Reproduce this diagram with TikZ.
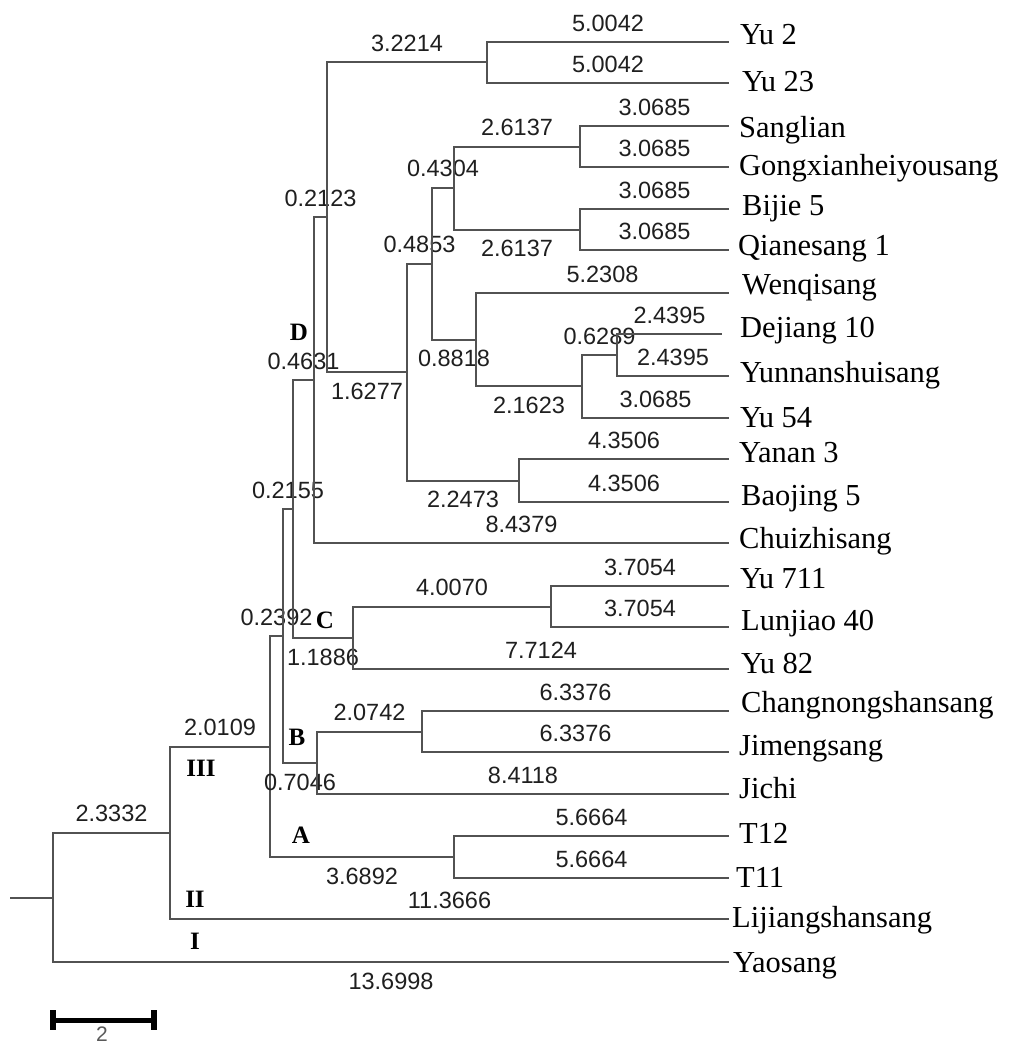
\documentclass[tikz,border=0pt]{standalone}
\usepackage{fontspec}
\setmainfont{Liberation Serif}
\newfontfamily\numfont{Liberation Sans}
\usepackage{tikz}

\begin{document}
\begin{tikzpicture}[x=1pt, y=-1pt,
	branch/.style={draw=black!68, line width=2pt},
	num/.style={font=\numfont\fontsize{23.5}{24}\selectfont, text=black!88, inner sep=0pt},
	len/.style={num, pos=.75},
	ab/.style={len, yshift=19pt},
	bl/.style={len, yshift=-19pt},
	leaf/.style={anchor=base west, inner sep=0pt, font=\fontsize{30.5}{32}\selectfont},
	grp/.style={font=\bfseries\fontsize{25}{27}\selectfont, inner sep=0pt}]
	\useasboundingbox (0,0) rectangle (1021,1046);
	% inner nodes
	\coordinate (stub) at (10,897.5);
	\coordinate (r) at (53,897.5);
	\coordinate (n2) at (170,832.75);
	\coordinate (n3) at (270,746.5);
	\coordinate (nA) at (454,857);
	\coordinate (n4) at (283,636);
	\coordinate (nB) at (317,763);
	\coordinate (nB1) at (422,731.5);
	\coordinate (n5) at (293,509);
	\coordinate (nC) at (353,638);
	\coordinate (nC1) at (551,606.5);
	\coordinate (nD) at (314,380);
	\coordinate (n6) at (327,217);
	\coordinate (nY) at (487,62.5);
	\coordinate (n7) at (407,372);
	\coordinate (nYB) at (519,480.5);
	\coordinate (n8) at (432,263.5);
	\coordinate (n9) at (454,187.5);
	\coordinate (nSG) at (580,146.5);
	\coordinate (nBQ) at (580,229.5);
	\coordinate (n10) at (476,339.5);
	\coordinate (n11) at (582,386);
	\coordinate (n12) at (617,355);
	% leaves
	\coordinate (yu2) at (729,42);
	\coordinate (yu23) at (729,83);
	\coordinate (sang) at (729,126);
	\coordinate (gong) at (729,167);
	\coordinate (bijie) at (729,209);
	\coordinate (qian) at (729,250);
	\coordinate (wenqi) at (729,293);
	\coordinate (dej) at (722,334);
	\coordinate (yunnan) at (729,376);
	\coordinate (yu54) at (729,418);
	\coordinate (yanan) at (729,459);
	\coordinate (baoj) at (729,502);
	\coordinate (chui) at (729,543);
	\coordinate (yu711) at (729,586);
	\coordinate (lunj) at (729,627);
	\coordinate (yu82) at (729,669);
	\coordinate (chang) at (729,711);
	\coordinate (jimeng) at (729,752);
	\coordinate (jichi) at (729,794);
	\coordinate (t12) at (729,836);
	\coordinate (t11) at (729,878);
	\coordinate (lij) at (729,919);
	\coordinate (yao) at (729,962);

	\draw[branch] (stub) -- (r);
	\draw[branch] (r) |- node[ab] {2.3332} (n2);
	\draw[branch] (r) |- node[bl] {13.6998} (yao);
	\draw[branch] (n2) |- node[ab] {2.0109} (n3);
	\draw[branch] (n2) |- node[ab] {11.3666} (lij);
	\draw[branch] (n3) |- node[ab] {0.2392} (n4);
	\draw[branch] (n3) |- node[bl] {3.6892} (nA);
	\draw[branch] (nA) |- node[ab] {5.6664} (t12);
	\draw[branch] (nA) |- node[ab] {5.6664} (t11);
	\draw[branch] (n4) |- node[ab] {0.2155} (n5);
	\draw[branch] (n4) |- node[bl] {0.7046} (nB);
	\draw[branch] (nB) |- node[ab] {2.0742} (nB1);
	\draw[branch] (nB) |- node[ab] {8.4118} (jichi);
	\draw[branch] (nB1) |- node[ab] {6.3376} (chang);
	\draw[branch] (nB1) |- node[ab] {6.3376} (jimeng);
	\draw[branch] (n5) |- node[ab] {0.4631} (nD);
	\draw[branch] (n5) |- node[bl] {1.1886} (nC);
	\draw[branch] (nC) |- node[ab] {4.0070} (nC1);
	\draw[branch] (nC) |- node[ab] {7.7124} (yu82);
	\draw[branch] (nC1) |- node[ab] {3.7054} (yu711);
	\draw[branch] (nC1) |- node[ab] {3.7054} (lunj);
	\draw[branch] (nD) |- node[ab] {0.2123} (n6);
	\draw[branch] (nD) |- node[ab] {8.4379} (chui);
	\draw[branch] (n6) |- node[ab] {3.2214} (nY);
	\draw[branch] (n6) |- node[bl] {1.6277} (n7);
	\draw[branch] (nY) |- node[ab] {5.0042} (yu2);
	\draw[branch] (nY) |- node[ab] {5.0042} (yu23);
	\draw[branch] (n7) |- node[ab] {0.4853} (n8);
	\draw[branch] (n7) |- node[bl] {2.2473} (nYB);
	\draw[branch] (nYB) |- node[ab] {4.3506} (yanan);
	\draw[branch] (nYB) |- node[ab] {4.3506} (baoj);
	\draw[branch] (n8) |- node[ab] {0.4304} (n9);
	\draw[branch] (n8) |- node[bl] {0.8818} (n10);
	\draw[branch] (n9) |- node[ab] {2.6137} (nSG);
	\draw[branch] (n9) |- node[bl] {2.6137} (nBQ);
	\draw[branch] (nSG) |- node[ab] {3.0685} (sang);
	\draw[branch] (nSG) |- node[ab] {3.0685} (gong);
	\draw[branch] (nBQ) |- node[ab] {3.0685} (bijie);
	\draw[branch] (nBQ) |- node[ab] {3.0685} (qian);
	\draw[branch] (n10) |- node[ab] {5.2308} (wenqi);
	\draw[branch] (n10) |- node[bl] {2.1623} (n11);
	\draw[branch] (n11) |- node[ab] {0.6289} (n12);
	\draw[branch] (n11) |- node[ab] {3.0685} (yu54);
	\draw[branch] (n12) |- node[ab] {2.4395} (dej);
	\draw[branch] (n12) |- node[ab] {2.4395} (yunnan);

	% taxon names
	\node[leaf] (yu2t) at (740,45) {Yu 2};
	\node[leaf] (yu23t) at (742,92) {Yu 23};
	\node[leaf] (sangt) at (739,137) {Sanglian};
	\node[leaf] (gongt) at (739,175) {Gongxianheiyousang};
	\node[leaf] (bijiet) at (742,215) {Bijie 5};
	\node[leaf] (qiant) at (738,255) {Qianesang 1};
	\node[leaf] (wenqit) at (742,294) {Wenqisang};
	\node[leaf] (dejt) at (740,337) {Dejiang 10};
	\node[leaf] (yunnant) at (740,382) {Yunnanshuisang};
	\node[leaf] (yu54t) at (740,427) {Yu 54};
	\node[leaf] (yanant) at (739,462) {Yanan 3};
	\node[leaf] (baojt) at (741,505) {Baojing 5};
	\node[leaf] (chuit) at (739,548) {Chuizhisang};
	\node[leaf] (yu711t) at (740,588) {Yu 711};
	\node[leaf] (lunjt) at (741,630) {Lunjiao 40};
	\node[leaf] (yu82t) at (741,673) {Yu 82};
	\node[leaf] (changt) at (741,712) {Changnongshansang};
	\node[leaf] (jimengt) at (739,755) {Jimengsang};
	\node[leaf] (jichit) at (739,798) {Jichi};
	\node[leaf] (t12t) at (739,843) {T12};
	\node[leaf] (t11t) at (736,887) {T11};
	\node[leaf] (lijt) at (732,927) {Lijiangshansang};
	\node[leaf] (yaot) at (733,972) {Yaosang};

	% cluster marks
	\node[grp] (gD) at (299,332) {D};
	\node[grp] (gC) at (325,620) {C};
	\node[grp] (gB) at (297,737) {B};
	\node[grp] (gA) at (301,835) {A};
	\node[grp] (g3) at (201,768) {III};
	\node[grp] (g2) at (195,899) {II};
	\node[grp] (g1) at (195,941) {I};

	% scale bar
	\coordinate (sbl) at (53,1020);
	\coordinate (sbr) at (154,1020);
	\draw[line width=5pt] (sbl) -- (sbr);
	\draw[line width=6pt] ([yshift=10pt]sbl) -- ([yshift=-10pt]sbl);
	\draw[line width=6pt] ([yshift=10pt]sbr) -- ([yshift=-10pt]sbr);
	\node[num, text=black!65, font=\numfont\fontsize{21}{22}\selectfont] (sbt) at (102,1034) {2};
\end{tikzpicture}
\end{document}
